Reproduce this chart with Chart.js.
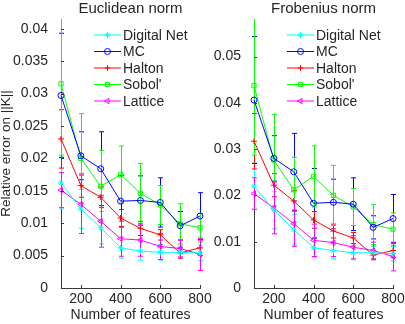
<!DOCTYPE html>
<html>
<head>
<meta charset="utf-8">
<script src="https://cdn.jsdelivr.net/npm/chart.js@4.4.1/dist/chart.umd.min.js"></script>
<style>
  body { margin: 0; background: #fff; }
  #wrap { position: relative; width: 405px; height: 324px; overflow: hidden; }
  canvas { position: absolute; top: 0; }
  #euclid { left: 0; }
  #frob { left: 205px; }
</style>
</head>
<body>
<div id="wrap">
  <canvas id="euclid" width="235" height="324"></canvas>
  <canvas id="frob" width="200" height="324"></canvas>
</div>
<script>
var features = [100, 200, 300, 400, 500, 600, 700, 800];
var seriesNames = ['Digital Net', 'MC', 'Halton', "Sobol'", 'Lattice'];

// Euclidean norm: mean relative error and error bar half-widths
var eucDigitalNet = [0.0162, 0.0122, 0.0093, 0.0062, 0.0057, 0.0055, 0.0055, 0.0054];
var eucMC         = [0.0297, 0.0204, 0.0184, 0.0134, 0.0135, 0.0132, 0.0096, 0.0111];
var eucHalton     = [0.0230, 0.0158, 0.0140, 0.0108, 0.0092, 0.0082, 0.0054, 0.0062];
var eucSobol      = [0.0315, 0.0200, 0.0157, 0.0175, 0.0146, 0.0128, 0.0099, 0.0093];
var eucLattice    = [0.0151, 0.0129, 0.0103, 0.0076, 0.0074, 0.0064, 0.0061, 0.0052];
var eucDigitalNetErr = [0.0040, 0.0030, 0.0025, 0.0016, 0.0014, 0.0012, 0.0010, 0.0012];
var eucMCErr         = [0.0096, 0.0037, 0.0057, 0.0040, 0.0038, 0.0038, 0.0022, 0.0036];
var eucHaltonErr     = [0.0045, 0.0018, 0.0016, 0.0013, 0.0011, 0.0008, 0.0008, 0.0012];
var eucSobolErr      = [0.0110, 0.0069, 0.0055, 0.0044, 0.0046, 0.0030, 0.0031, 0.0022];
var eucLatticeErr    = [0.0027, 0.0045, 0.0040, 0.0027, 0.0025, 0.0020, 0.0013, 0.0025];

// Frobenius norm
var frobDigitalNet = [0.0220, 0.0168, 0.0126, 0.0087, 0.0081, 0.0076, 0.0076, 0.0074];
var frobMC         = [0.0406, 0.0280, 0.0251, 0.0183, 0.0185, 0.0181, 0.0131, 0.0150];
var frobHalton     = [0.0317, 0.0222, 0.0188, 0.0147, 0.0123, 0.0108, 0.0071, 0.0081];
var frobSobol      = [0.0437, 0.0276, 0.0212, 0.0241, 0.0200, 0.0175, 0.0137, 0.0127];
var frobLattice    = [0.0204, 0.0173, 0.0139, 0.0103, 0.0098, 0.0088, 0.0081, 0.0068];
var frobDigitalNetErr = [0.0050, 0.0040, 0.0033, 0.0020, 0.0018, 0.0015, 0.0014, 0.0016];
var frobMCErr         = [0.0137, 0.0049, 0.0083, 0.0075, 0.0050, 0.0057, 0.0025, 0.0052];
var frobHaltonErr     = [0.0060, 0.0025, 0.0022, 0.0018, 0.0015, 0.0012, 0.0010, 0.0015];
var frobSobolErr      = [0.0150, 0.0099, 0.0070, 0.0066, 0.0065, 0.0040, 0.0043, 0.0035];
var frobLatticeErr    = [0.0034, 0.0056, 0.0049, 0.0035, 0.0030, 0.0025, 0.0018, 0.0031];

var xTicks = [200, 400, 600, 800];
var eucYTicks = [0, 0.005, 0.01, 0.015, 0.02, 0.025, 0.03, 0.035, 0.04];
var eucYLabels = ['0', '0.005', '0.01', '0.015', '0.02', '0.025', '0.03', '0.035', '0.04'];
var frobYTicks = [0, 0.01, 0.02, 0.03, 0.04, 0.05];
var frobYLabels = ['0', '0.01', '0.02', '0.03', '0.04', '0.05'];

var colors = ['#00ffff', '#0000ff', '#ff0000', '#00ff00', '#ff00ff'];
var styles = ['star', 'circle', 'cross', 'rect', 'triangle'];
var rotations = [0, 0, 0, 0, -90];

var FONT = "'Liberation Sans', Arial, Helvetica, sans-serif";
var TEXT = '#262626';
var AXIS = '#3a3a3a';

function buildDatasets(values, errs) {
    return values.map(function (vals, k) {
        return {
            label: seriesNames[k],
            data: features.map(function (f, i) { return { x: f, y: vals[i] }; }),
            err: errs[k],
            borderColor: colors[k],
            backgroundColor: 'rgba(0,0,0,0)',
            pointBorderColor: colors[k],
            pointBackgroundColor: 'rgba(0,0,0,0)',
            pointStyle: styles[k],
            pointRotation: rotations[k],
            pointRadius: 3,
            pointBorderWidth: 1,
            borderWidth: 1,
            tension: 0,
            clip: false
        };
    });
}

// vertical error bars with small caps
var errorBars = {
    id: 'errorBars',
    beforeDatasetsDraw: function (chart) {
        var ctx = chart.ctx, a = chart.chartArea;
        var sx = chart.scales.x, sy = chart.scales.y;
        ctx.save();
        ctx.beginPath();
        ctx.rect(a.left - 10, a.top, a.right - a.left + 20, a.bottom - a.top + 10);
        ctx.clip();
        ctx.lineWidth = 1;
        chart.data.datasets.forEach(function (ds) {
            ctx.strokeStyle = ds.borderColor;
            ds.data.forEach(function (p, i) {
                var x = Math.round(sx.getPixelForValue(p.x)) + 0.5;
                var y1 = sy.getPixelForValue(p.y - ds.err[i]);
                var y2 = sy.getPixelForValue(p.y + ds.err[i]);
                ctx.beginPath();
                ctx.moveTo(x, y1); ctx.lineTo(x, y2);
                ctx.moveTo(x - 2.5, y1); ctx.lineTo(x + 2.5, y1);
                ctx.moveTo(x - 2.5, y2); ctx.lineTo(x + 2.5, y2);
                ctx.stroke();
            });
        });
        ctx.restore();
    }
};

// inward tick marks, legend inside the plot
var extras = {
    id: 'extras',
    afterDraw: function (chart) {
        var ctx = chart.ctx, a = chart.chartArea;
        var sx = chart.scales.x, sy = chart.scales.y;
        ctx.save();
        ctx.strokeStyle = AXIS;
        ctx.lineWidth = 1;
        ctx.beginPath();
        sy.ticks.forEach(function (t) {
            var y = Math.round(sy.getPixelForValue(t.value)) + 0.5;
            ctx.moveTo(a.left, y); ctx.lineTo(a.left + 3, y);
        });
        sx.ticks.forEach(function (t) {
            var x = Math.round(sx.getPixelForValue(t.value)) + 0.5;
            ctx.moveTo(x, a.bottom); ctx.lineTo(x, a.bottom - 3);
        });
        ctx.stroke();

        var lx = a.right - 106, ly = a.top + 16;
        ctx.font = '14px ' + FONT;
        ctx.textBaseline = 'middle';
        ctx.textAlign = 'left';
        chart.data.datasets.forEach(function (ds, k) {
            var y = ly + k * 16.5;
            ctx.strokeStyle = ds.borderColor;
            ctx.fillStyle = 'rgba(0,0,0,0)';
            ctx.beginPath();
            ctx.moveTo(lx, y); ctx.lineTo(lx + 27, y);
            ctx.stroke();
            if (Chart.helpers && Chart.helpers.drawPoint) {
                Chart.helpers.drawPoint(ctx, { pointStyle: ds.pointStyle, rotation: ds.pointRotation, radius: 3, borderWidth: 1 }, lx + 13.5, y);
            }
            ctx.fillStyle = TEXT;
            ctx.fillText(ds.label, lx + 29, y + 1);
        });
        ctx.restore();
    }
};

function makePanel(id, title, datasets, yMax, yTicks, yLabels, yWidth, padRight, yTitle) {
    return new Chart(document.getElementById(id), {
        type: 'line',
        data: { datasets: datasets },
        plugins: [errorBars, extras],
        options: {
            responsive: false,
            animation: false,
            devicePixelRatio: 1,
            layout: { padding: { left: 0, right: padRight, top: 0, bottom: 0 } },
            plugins: {
                legend: { display: false },
                tooltip: { enabled: false },
                title: {
                    display: true,
                    text: title,
                    fullSize: false,
                    color: TEXT,
                    font: { family: FONT, size: 15, weight: 'normal', lineHeight: 1 },
                    padding: { top: 1, bottom: 3 }
                }
            },
            scales: {
                x: {
                    type: 'linear',
                    min: 100,
                    max: 800,
                    afterBuildTicks: function (s) { s.ticks = xTicks.map(function (v) { return { value: v }; }); },
                    afterFit: function (s) { s.height = 36; },
                    grid: { display: false },
                    border: { display: true, color: AXIS, width: 1 },
                    ticks: { color: TEXT, font: { family: FONT, size: 14 }, padding: -5, maxRotation: 0, autoSkip: false },
                    title: { display: true, text: 'Number of features', color: TEXT, font: { family: FONT, size: 14, lineHeight: 1 }, padding: { top: 0, bottom: 2 } }
                },
                y: {
                    type: 'linear',
                    min: 0,
                    max: yMax,
                    afterBuildTicks: function (s) { s.ticks = yTicks.map(function (v) { return { value: v }; }); },
                    afterFit: function (s) { s.width = yWidth; },
                    grid: { display: false },
                    border: { display: true, color: AXIS, width: 1 },
                    ticks: {
                        color: TEXT,
                        font: { family: FONT, size: 14 },
                        padding: 5,
                        autoSkip: false,
                        callback: function (v, i) { return yLabels[i]; }
                    },
                    title: { display: !!yTitle, text: yTitle || '', color: TEXT, font: { family: FONT, size: 13.5, lineHeight: 1 }, padding: 0 }
                }
            }
        }
    });
}

makePanel('euclid', 'Euclidean norm',
    buildDatasets([eucDigitalNet, eucMC, eucHalton, eucSobol, eucLattice],
                  [eucDigitalNetErr, eucMCErr, eucHaltonErr, eucSobolErr, eucLatticeErr]),
    0.0415, eucYTicks, eucYLabels, 61, 35, 'Relative error on ||K||');

makePanel('frob', 'Frobenius norm',
    buildDatasets([frobDigitalNet, frobMC, frobHalton, frobSobol, frobLattice],
                  [frobDigitalNetErr, frobMCErr, frobHaltonErr, frobSobolErr, frobLatticeErr]),
    0.0581, frobYTicks, frobYLabels, 49, 12, null);
</script>
</body>
</html>
